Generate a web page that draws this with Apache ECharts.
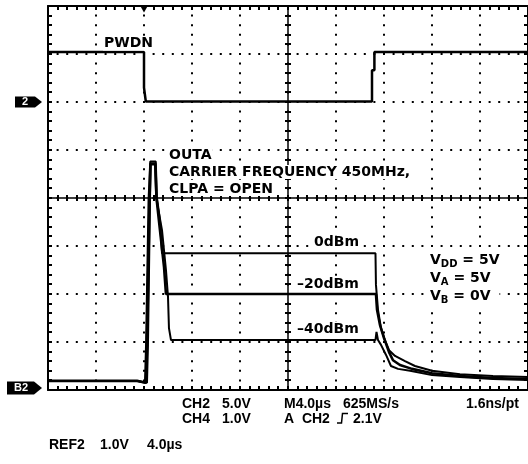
<!DOCTYPE html>
<html>
<head>
<meta charset="utf-8">
<script src="https://cdn.jsdelivr.net/npm/echarts@6/dist/echarts.min.js"></script>
<style>
  html, body { margin: 0; padding: 0; background: #fff; }
  #chart { width: 528px; height: 464px; }
</style>
</head>
<body>
<div id="chart"></div>
<script>
// Horizontal: time in microseconds relative to the trigger, 4 us per division
const timeRange = [-8, 32];
const timePerDiv = 4;
const triggerTime = 0;

// CH2 (PWDN): 5 V per division, ground marker "2"
const ch2Range = [-30, 10];
const ch2PerDiv = 5;

// REF2 (OUTA envelope): 1 V per division, ground marker "B2"
const ref2Range = [0, 8];
const ref2PerDiv = 1;

// Minor graticule marks per division
const minorPerDiv = 5;

// PWDN logic signal [time us, volts]
const pwdn = [
  [-8, 5.2], [0, 5.2], [0, 1.5], [0.15, 1.5], [0.15, 0.05], [19.0, 0.05],
  [19.0, 3.3], [19.2, 3.3], [19.2, 5.2], [32, 5.2]
];

// OUTA detector output for three input levels [time us, volts]
const outa0dBm = [
  [-8, 0.19], [-0.58, 0.19], [-0.5, 0.15], [0.08, 0.15], [0.17, 0.94], [0.38, 3.96],
  [0.52, 4.76], [0.98, 4.76], [1.08, 4.0], [1.33, 3.54], [1.5, 2.85], [19.29, 2.85],
  [19.33, 2.19], [19.5, 1.67], [19.75, 1.29], [20.08, 1.04], [20.42, 0.83], [20.92, 0.71],
  [21.75, 0.6], [22.58, 0.5], [24.0, 0.4], [26.33, 0.33], [29.08, 0.29], [32, 0.27]
];
const outa20dBm = [
  [-8, 0.19], [-0.58, 0.19], [-0.5, 0.15], [0.17, 0.15], [0.25, 0.94], [0.46, 3.96],
  [0.54, 4.72], [0.94, 4.72], [1.04, 4.0], [1.33, 3.33], [1.67, 2.56], [1.83, 2.0],
  [19.33, 2.0], [19.42, 1.67], [19.67, 1.35], [20.0, 1.08], [20.42, 0.79], [20.75, 0.62],
  [21.33, 0.52], [22.33, 0.44], [24.0, 0.35], [26.33, 0.29], [29.08, 0.25], [32, 0.23]
];
const outa40dBm = [
  [-8, 0.19], [-0.58, 0.19], [-0.5, 0.15], [0.25, 0.15], [0.33, 0.94], [0.5, 3.96],
  [0.56, 4.7], [0.92, 4.7], [1.02, 4.0], [1.5, 3.33], [1.83, 2.5], [2.0, 1.94],
  [2.08, 1.29], [2.25, 1.04], [19.29, 1.04], [19.375, 1.21], [19.5, 1.04], [19.75, 0.94],
  [20.17, 0.73], [20.58, 0.5], [21.17, 0.44], [22.17, 0.4], [24.0, 0.31], [26.33, 0.27],
  [29.08, 0.23], [32, 0.21]
];

// Readout text under the screen
const readoutRow1 = ['CH2', '5.0V', 'M4.0\u00b5s', '625MS/s', '1.6ns/pt'];
const readoutRow2 = ['CH4', '1.0V', 'A  CH2', '2.1V'];
const readoutRow3 = ['REF2', '1.0V', '4.0\u00b5s'];

const INK = '#000';
const ANNOT_FONT = 'bold 14px "DejaVu Sans"';
const READOUT_FONT = 'bold 14px "Liberation Sans"';

const chart = echarts.init(document.getElementById('chart'), null, { renderer: 'canvas' });

function frameAxis(extra) {
  return Object.assign({
    type: 'value',
    axisLabel: { show: false },
    splitLine: { show: false },
    axisTick: { show: false },
    axisLine: { show: true, onZero: false, lineStyle: { color: INK, width: 2 } }
  }, extra);
}
function centerAxis(extra, zeroIndex) {
  return Object.assign({
    type: 'value',
    axisLabel: { show: false },
    splitLine: { show: false },
    axisTick: { show: false },
    axisLine: { show: true, onZero: true, onZeroAxisIndex: zeroIndex, lineStyle: { color: INK, width: 1.5 } }
  }, extra);
}
function dotted() {
  return { show: true, lineStyle: { color: INK, width: 2, type: [2, 7.6], dashOffset: 1 } };
}

const xRange = { min: timeRange[0], max: timeRange[1], interval: timePerDiv };
const yRef = { min: ref2Range[0], max: ref2Range[1], interval: ref2PerDiv };

const xAxis = [
  frameAxis(Object.assign({ position: 'bottom', splitLine: dotted() }, xRange)),
  frameAxis(Object.assign({ position: 'top' }, xRange)),
  centerAxis(Object.assign({ position: 'bottom' }, xRange), 2),
  { type: 'value', min: -5, max: 5, show: false }
];
const yAxis = [
  frameAxis({ position: 'left', min: ch2Range[0], max: ch2Range[1], interval: ch2PerDiv }),
  frameAxis(Object.assign({ position: 'right', splitLine: dotted() }, yRef)),
  { type: 'value', min: -4, max: 4, show: false },
  centerAxis(Object.assign({ position: 'left' }, yRef), 3)
];

function trace(name, data, yIndex, width, extra) {
  return Object.assign({
    name: name,
    type: 'line',
    xAxisIndex: 0,
    yAxisIndex: yIndex,
    data: data,
    symbol: 'none',
    clip: false,
    silent: true,
    lineStyle: { color: INK, width: width },
    z: 5
  }, extra || {});
}

function channelMarker(text, coord, path, size, offset, labelShift) {
  return {
    coord: coord,
    symbol: path,
    symbolSize: size,
    symbolOffset: offset,
    itemStyle: { color: INK },
    label: {
      show: true, position: 'inside', formatter: text, offset: [labelShift, 0],
      color: '#fff', fontWeight: 'bold', fontSize: 11, fontFamily: 'Liberation Sans'
    }
  };
}

const series = [
  trace('PWDN', pwdn, 0, 2.5, {
    markPoint: {
      silent: true,
      animation: false,
      data: [
        channelMarker('2', [timeRange[0], 0], 'path://M0,0 L20,0 L27,5.5 L20,11 L0,11 Z',
          [27, 11], [-19.5, 0], -3.5),
        {
          coord: [triggerTime, ch2Range[1]],
          symbol: 'path://M0,0 L8,0 L4,7 Z',
          symbolSize: [8, 7],
          symbolOffset: [0, 3],
          itemStyle: { color: INK },
          label: { show: false }
        }
      ]
    }
  }),
  trace('0dBm', outa0dBm, 1, 2, {
    markPoint: {
      silent: true,
      animation: false,
      data: [
        channelMarker('B2', [timeRange[0], 0], 'path://M0,0 L27,0 L35,6.5 L27,13 L0,13 Z',
          [35, 13], [-23.5, -2], -3.5)
      ]
    }
  }),
  trace('-20dBm', outa20dBm, 1, 2.6),
  trace('-40dBm', outa40dBm, 1, 2)
];

chart.setOption({
  animation: false,
  backgroundColor: '#fff',
  grid: { left: 48, top: 6, width: 480, height: 384, containLabel: false },
  xAxis: xAxis,
  yAxis: yAxis,
  series: series
});

// Minor graticule ticks along the frame and the centre cross, placed from the axes
function graticuleTicks() {
  const finder = { xAxisIndex: 0, yAxisIndex: 1 };
  const tl = chart.convertToPixel(finder, [timeRange[0], ref2Range[1]]);
  const br = chart.convertToPixel(finder, [timeRange[1], ref2Range[0]]);
  const mid = chart.convertToPixel(finder,
    [(timeRange[0] + timeRange[1]) / 2, (ref2Range[0] + ref2Range[1]) / 2]);
  const nx = (timeRange[1] - timeRange[0]) / timePerDiv * minorPerDiv;
  const ny = (ref2Range[1] - ref2Range[0]) / ref2PerDiv * minorPerDiv;
  const frameLen = 4, crossLen = 3, w = 2;
  const out = [];
  function mark(x, y, width, height) {
    out.push({
      type: 'rect', z: 40, silent: true,
      shape: { x: x, y: y, width: width, height: height },
      style: { fill: INK }
    });
  }
  for (let i = 1; i < nx; i++) {
    const x = Math.round(tl[0] + (br[0] - tl[0]) * i / nx) - w / 2;
    mark(x, tl[1], w, frameLen);
    mark(x, br[1] - frameLen, w, frameLen);
    mark(x, Math.round(mid[1]) - crossLen, w, crossLen * 2);
  }
  for (let j = 1; j < ny; j++) {
    const y = Math.round(tl[1] + (br[1] - tl[1]) * j / ny) - w / 2;
    mark(tl[0], y, frameLen, w);
    mark(br[0] - frameLen, y, frameLen, w);
    mark(Math.round(mid[0]) - crossLen, y, crossLen * 2, w);
  }
  return out;
}

function label(text, x, y, font, bg) {
  const st = { text: text, x: x, y: y, font: font, fill: INK, verticalAlign: 'middle', align: 'left' };
  if (bg) { st.backgroundColor = '#fff'; st.padding = [0, 1]; }
  return { type: 'text', z: 50, silent: true, style: st };
}

const annotations = [
  label('PWDN', 103, 43.6, ANNOT_FONT, true),
  label('OUTA', 168, 154.9, ANNOT_FONT, true),
  label('CARRIER FREQUENCY 450MHz,', 168, 171.9, ANNOT_FONT, true),
  label('CLPA = OPEN', 168, 188.9, ANNOT_FONT, true),
  label('0dBm', 313, 242.6, ANNOT_FONT, true),
  label('\u201320dBm', 296, 284.2, ANNOT_FONT, true),
  label('\u201340dBm', 296, 328.9, ANNOT_FONT, true),
  {
    type: 'text', z: 50, silent: true,
    style: {
      x: 430, y: 251, fill: INK, verticalAlign: 'top', align: 'left',
      backgroundColor: '#fff',
      text: '{m|V}{s|DD}{m| = 5V}\n{m|V}{s|A}{m| = 5V}\n{m|V}{s|B}{m| = 0V}',
      rich: {
        m: { font: ANNOT_FONT, fill: INK, lineHeight: 18 },
        s: { font: 'bold 10px "DejaVu Sans"', fill: INK, lineHeight: 10, verticalAlign: 'bottom' }
      }
    }
  },
  // readout row 1
  label(readoutRow1[0], 182, 403.8, READOUT_FONT),
  label(readoutRow1[1], 222, 403.8, READOUT_FONT),
  label(readoutRow1[2], 284, 403.8, READOUT_FONT),
  label(readoutRow1[3], 343, 403.8, READOUT_FONT),
  label(readoutRow1[4], 466, 403.8, READOUT_FONT),
  // readout row 2
  label(readoutRow2[0], 182, 418.8, READOUT_FONT),
  label(readoutRow2[1], 222, 418.8, READOUT_FONT),
  label(readoutRow2[2], 284, 418.8, READOUT_FONT),
  {
    type: 'polyline', z: 50, silent: true,
    shape: { points: [[337, 423], [341.5, 423], [342.5, 413.5], [348, 413.5]] },
    style: { stroke: INK, lineWidth: 1.5, fill: null }
  },
  label(readoutRow2[3], 353, 418.8, READOUT_FONT),
  // readout row 3
  label(readoutRow3[0], 49, 445.3, READOUT_FONT),
  label(readoutRow3[1], 100, 445.3, READOUT_FONT),
  label(readoutRow3[2], 147, 445.3, READOUT_FONT)
];

chart.setOption({ graphic: { elements: graticuleTicks().concat(annotations) } });
</script>
</body>
</html>
